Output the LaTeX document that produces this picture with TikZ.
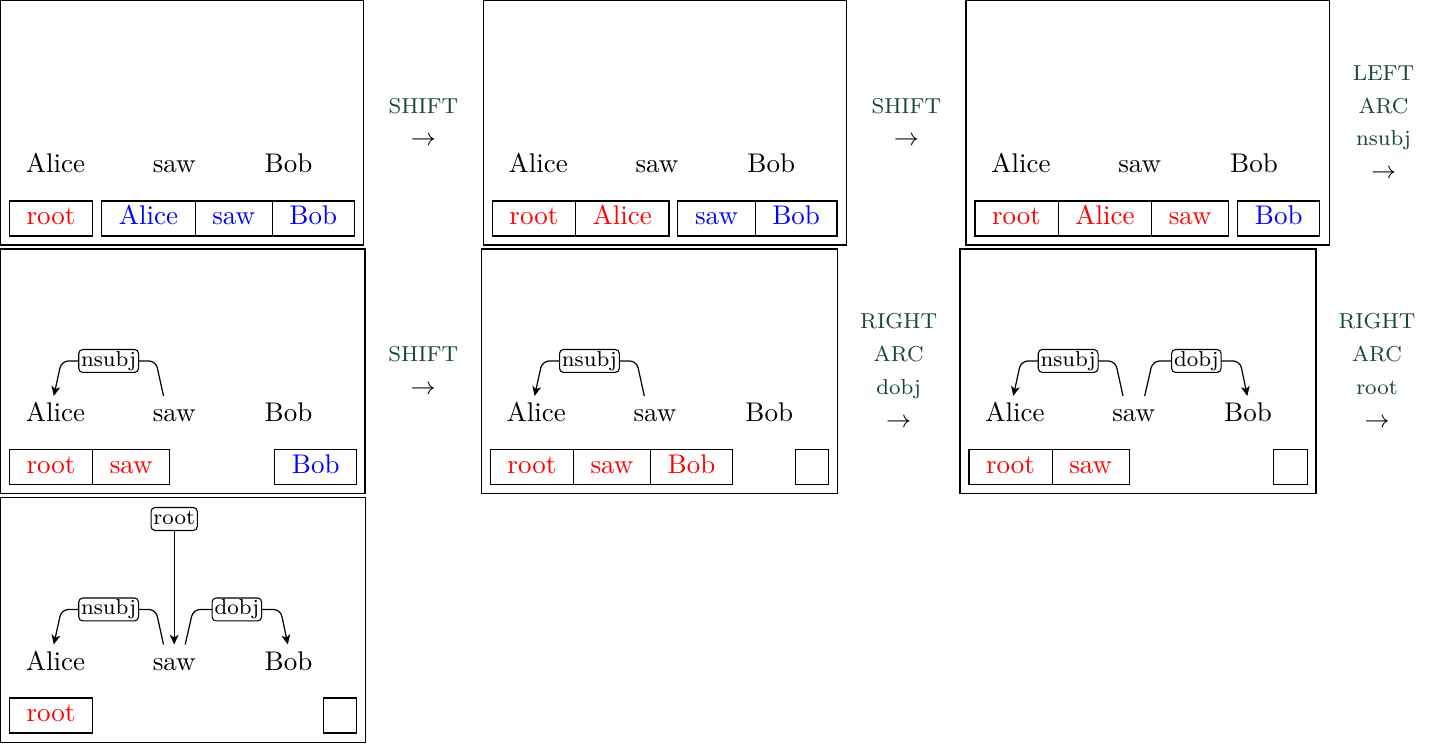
\documentclass[tikz,border=0pt]{standalone}
\usetikzlibrary{arrows.meta,positioning,calc}
\definecolor{actgreen}{RGB}{22,70,52}
\begin{document}
\begin{tikzpicture}[x=0.37037pt,y=-0.37037pt,
  panel/.style={draw,line width=0.4pt},
  word/.style={font=\fontsize{10}{12}\selectfont,inner sep=0pt,text height=9.26pt,anchor=base},
  cell/.style={draw,line width=0.4pt,font=\fontsize{10}{12}\selectfont,inner xsep=6.35pt,inner ysep=0pt,minimum height=12.96pt,text height=7.4pt,text depth=2.6pt,outer sep=0pt},
  stk/.style={cell,text=red},
  buf/.style={cell,text=blue},
  emptybuf/.style={draw,line width=0.4pt,minimum width=12.37pt,minimum height=12.96pt,inner sep=0pt,outer sep=0pt},
  deparc/.style={line width=0.45pt,rounded corners=2.6pt,-{Stealth[length=3.6pt,width=3.3pt,inset=1pt]}},
  deplab/.style={draw,fill=white,line width=0.4pt,rounded corners=1.5pt,inner xsep=0.9pt,inner ysep=0.6pt,font=\fontsize{8}{9.6}\selectfont,text height=5.63pt,text depth=1.67pt},
  act/.style={text=actgreen,font=\fontsize{8}{9.6}\selectfont,anchor=base,inner sep=0pt},
  actarrow/.style={font=\fontsize{9}{11}\selectfont,anchor=base,inner sep=0pt}
]
\useasboundingbox (0,0) rectangle (1433,744);

% ---------- Panel 1 ----------
\draw[panel] (0.5,0.5) rectangle (363.5,245);
\node[word] (a1) at (55.5,173) {Alice};
\node[word] (s1) at (174.2,173) {saw};
\node[word] (b1) at (288.5,173) {Bob};
\node[stk,anchor=west] (k1a) at (9.5,218.5) {root};
\node[buf,right=3.33pt of k1a] (q1a) {Alice};
\node[buf,right=0pt of q1a] (q1b) {saw};
\node[buf,right=0pt of q1b] (q1c) {Bob};

% ---------- Panel 2 ----------
\draw[panel] (483.3,0.5) rectangle (846.8,245);
\node[word] (a2) at (538.3,173) {Alice};
\node[word] (s2) at (657,173) {saw};
\node[word] (b2) at (771.3,173) {Bob};
\node[stk,anchor=west] (k2a) at (492.3,218.5) {root};
\node[stk,right=0pt of k2a] (k2b) {Alice};
\node[buf,right=3.33pt of k2b] (q2a) {saw};
\node[buf,right=0pt of q2a] (q2b) {Bob};

% ---------- Panel 3 ----------
\draw[panel] (966,0.5) rectangle (1329.5,245);
\node[word] (a3) at (1021,173) {Alice};
\node[word] (s3) at (1139.7,173) {saw};
\node[word] (b3) at (1254,173) {Bob};
\node[stk,anchor=west] (k3a) at (975,218.5) {root};
\node[stk,right=0pt of k3a] (k3b) {Alice};
\node[stk,right=0pt of k3b] (k3c) {saw};
\node[buf,right=3.33pt of k3c] (q3a) {Bob};

% ---------- Panel 4 ----------
\draw[panel] (0.5,249) rectangle (365,493.5);
\node[word] (a4) at (55.5,421.5) {Alice};
\node[word] (s4) at (174.2,421.5) {saw};
\node[word] (b4) at (288.5,421.5) {Bob};
\node[stk,anchor=west] (k4a) at (9.5,467) {root};
\node[stk,right=0pt of k4a] (k4b) {saw};
\node[buf,anchor=east] (q4a) at (356.7,467) {Bob};
\draw[deparc] ($(s4.north)+(-10.7,0)$) -- ($(s4.north)+(-18.4,-35)$)
  -- node[deplab]{nsubj} ($(a4.north)+(6,-35)$) -- ($(a4.north)+(-1.7,0)$);

% ---------- Panel 5 ----------
\draw[panel] (481.3,249) rectangle (837.3,493.5);
\node[word] (a5) at (536.3,421.5) {Alice};
\node[word] (s5) at (655,421.5) {saw};
\node[word] (b5) at (769.3,421.5) {Bob};
\node[stk,anchor=west] (k5a) at (490.3,467) {root};
\node[stk,right=0pt of k5a] (k5b) {saw};
\node[stk,right=0pt of k5b] (k5c) {Bob};
\node[emptybuf,anchor=east] (q5) at (828.7,467) {};
\draw[deparc] ($(s5.north)+(-10.7,0)$) -- ($(s5.north)+(-18.4,-35)$)
  -- node[deplab]{nsubj} ($(a5.north)+(6,-35)$) -- ($(a5.north)+(-1.7,0)$);

% ---------- Panel 6 ----------
\draw[panel] (960,249) rectangle (1316,493.5);
\node[word] (a6) at (1015,421.5) {Alice};
\node[word] (s6) at (1133.7,421.5) {saw};
\node[word] (b6) at (1248,421.5) {Bob};
\node[stk,anchor=west] (k6a) at (969,467) {root};
\node[stk,right=0pt of k6a] (k6b) {saw};
\node[emptybuf,anchor=east] (q6) at (1307.3,467) {};
\draw[deparc] ($(s6.north)+(-10.7,0)$) -- ($(s6.north)+(-18.4,-35)$)
  -- node[deplab]{nsubj} ($(a6.north)+(6,-35)$) -- ($(a6.north)+(-1.7,0)$);
\draw[deparc] ($(s6.north)+(11,0)$) -- ($(s6.north)+(19,-35)$)
  -- node[deplab]{dobj} ($(b6.north)+(-8,-35)$) -- ($(b6.north)+(-0.7,0)$);

% ---------- Panel 7 ----------
\draw[panel] (0.5,497.5) rectangle (365.8,742.3);
\node[word] (a7) at (55.5,670) {Alice};
\node[word] (s7) at (174.2,670) {saw};
\node[word] (b7) at (288.5,670) {Bob};
\node[stk,anchor=west] (k7a) at (9.5,715.5) {root};
\node[emptybuf,anchor=east] (q7) at (356.7,715.5) {};
\draw[deparc] ($(s7.north)+(-10.7,0)$) -- ($(s7.north)+(-18.4,-35)$)
  -- node[deplab]{nsubj} ($(a7.north)+(6,-35)$) -- ($(a7.north)+(-1.7,0)$);
\draw[deparc] ($(s7.north)+(11,0)$) -- ($(s7.north)+(19,-35)$)
  -- node[deplab]{dobj} ($(b7.north)+(-8,-35)$) -- ($(b7.north)+(-0.7,0)$);
\node[deplab] (r7) at (174.2,519) {root};
\draw[deparc] (r7) -- (s7.north);

% ---------- Actions ----------
\node[act] (t1) at (423.4,113.2) {SHIFT};
\node[actarrow] (t1r) at (423.4,145.9) {$\rightarrow$};
\node[act] (t2) at (906.4,113.2) {SHIFT};
\node[actarrow] (t2r) at (906.4,145.9) {$\rightarrow$};
\node[act] (t3a) at (1383.5,80.5) {LEFT};
\node[act] (t3b) at (1383.5,113.2) {ARC};
\node[act] (t3c) at (1383.5,145.9) {nsubj};
\node[actarrow] (t3r) at (1383.5,178.6) {$\rightarrow$};

\node[act] (t4) at (423.2,361.7) {SHIFT};
\node[actarrow] (t4r) at (423.2,394.4) {$\rightarrow$};
\node[act] (t5a) at (898.7,329) {RIGHT};
\node[act] (t5b) at (898.7,361.7) {ARC};
\node[act] (t5c) at (898.7,394.4) {dobj};
\node[actarrow] (t5r) at (898.7,427.1) {$\rightarrow$};
\node[act] (t6a) at (1377,329) {RIGHT};
\node[act] (t6b) at (1377,361.7) {ARC};
\node[act] (t6c) at (1377,394.4) {root};
\node[actarrow] (t6r) at (1377,427.1) {$\rightarrow$};
\end{tikzpicture}
\end{document}
